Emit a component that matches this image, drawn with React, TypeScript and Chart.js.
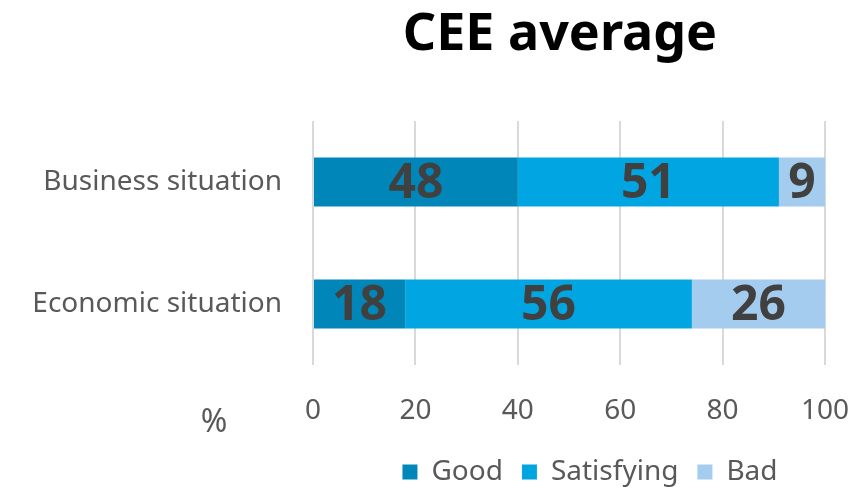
import React, { useEffect, useRef } from "react";
import { Chart, registerables } from "chart.js";

Chart.register(...registerables);

const chartTitle = "CEE average";
const unitLabel = "%";
const categories = ["Business situation", "Economic situation"];
const seriesNames = ["Good", "Satisfying", "Bad"];
const goodValues = [40, 18];
const satisfyingValues = [51, 56];
const badValues = [9, 26];
const goodLabels = ["48", "18"];
const satisfyingLabels = ["51", "56"];
const badLabels = ["9", "26"];
const xMin = 0;
const xMax = 100;
const xStep = 20;

const FONT = "'Noto Sans', sans-serif";
const colors = ["#0086B8", "#00A5E1", "#A3CCEE"];
const labelSets = [goodLabels, satisfyingLabels, badLabels];

const overlayPlugin = {
  id: "overlay",
  afterLayout(chart: any) {
    const lg = chart.legend;
    if (lg) {
      lg.left += 21;
      lg.right += 21;
    }
  },
  afterDatasetsDraw(chart: any) {
    const ctx = chart.ctx;
    ctx.save();
    ctx.font = `bold 48px ${FONT}`;
    ctx.fillStyle = "#404040";
    ctx.textAlign = "center";
    ctx.textBaseline = "middle";
    chart.data.datasets.forEach((ds: any, di: number) => {
      const meta = chart.getDatasetMeta(di);
      meta.data.forEach((el: any, i: number) => {
        const { x, base, y } = el.getProps(["x", "base", "y"], true);
        ctx.fillText(labelSets[di][i], (x + base) / 2, y + 2);
      });
    });
    ctx.restore();
  },
  afterDraw(chart: any) {
    const ctx = chart.ctx;
    ctx.save();
    ctx.fillStyle = "#000000";
    ctx.font = `bold 52px ${FONT}`;
    ctx.textAlign = "center";
    ctx.textBaseline = "middle";
    ctx.fillText(chartTitle, 560, 35);
    ctx.fillStyle = "#595959";
    ctx.font = `32px ${FONT}`;
    ctx.fillText(unitLabel, 214, 423);
    ctx.restore();
  },
};

export default function App() {
  const ref = useRef<HTMLCanvasElement | null>(null);
  useEffect(() => {
    if (!ref.current) return;
    const values = [goodValues, satisfyingValues, badValues];
    const chart = new Chart(ref.current, {
      type: "bar",
      data: {
        labels: categories,
        datasets: seriesNames.map((name, i) => ({
          label: name,
          data: values[i],
          backgroundColor: colors[i],
          borderWidth: 0,
          barPercentage: 0.4,
          categoryPercentage: 1,
        })),
      },
      plugins: [overlayPlugin],
      options: {
        indexAxis: "y",
        animation: false,
        responsive: true,
        maintainAspectRatio: false,
        layout: { padding: { top: 121, left: 0, right: 0, bottom: -9 } },
        scales: {
          x: {
            stacked: true,
            min: xMin,
            max: xMax,
            ticks: {
              stepSize: xStep,
              color: "#595959",
              font: { family: FONT, size: 28 },
              padding: 29,
            },
            grid: { color: "#D9D9D9", lineWidth: 2, drawTicks: false },
            border: { display: false },
            afterFit: (s: any) => {
              s.height = 74;
              s.paddingRight = 31;
              s.paddingLeft = 0;
            },
          },
          y: {
            stacked: true,
            ticks: {
              color: "#595959",
              font: { family: FONT, size: 28 },
              padding: 23,
            },
            grid: { display: false },
            border: { display: false },
            afterFit: (s: any) => {
              s.width = 313;
            },
          },
        },
        plugins: {
          title: { display: false },
          tooltip: { enabled: false },
          legend: {
            position: "bottom",
            fullSize: false,
            labels: {
              color: "#595959",
              font: { family: FONT, size: 28 },
              boxWidth: 15,
              boxHeight: 15,
              padding: 19,
            },
          },
        },
      },
    });
    return () => chart.destroy();
  }, []);
  return (
    <div style={{ position: "fixed", left: 0, top: 0, width: 856, height: 487 }}>
      <canvas ref={ref} />
    </div>
  );
}
